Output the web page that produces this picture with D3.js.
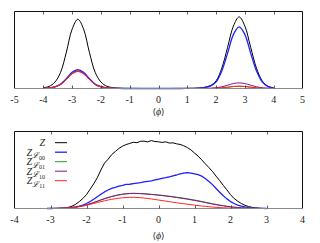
<!DOCTYPE html>
<html>
<head>
<meta charset="utf-8">
<script src="https://cdn.jsdelivr.net/npm/d3@7"></script>
<style>
  body { margin: 0; background: #fff; }
  svg { display: block; }
</style>
</head>
<body>
<div id="chart"></div>
<script>
// --- DATA ---
// top panel: histogram of <phi>, two-peak distribution
const topX = [-4.0,-3.8,-3.6,-3.4,-3.2,-3.0,-2.8,-2.6,-2.4,-2.2,-2.0,-1.8,-1.6,-1.4,-1.2,-1.0,-0.8,-0.6,-0.4,-0.2,
  0.0,0.2,0.4,0.6,0.8,1.0,1.2,1.4,1.6,1.8,2.0,2.2,2.4,2.6,2.8,3.0,3.2,3.4,3.6,3.8,4.0];
const topZ   = [0.009,0.027,0.081,0.21,0.47,0.77,0.90,0.77,0.47,0.21,0.085,0.03,0.012,0.005,0.002,0.001,0.001,0,0,0,
  0,0,0,0.001,0.001,0.002,0.003,0.006,0.016,0.038,0.10,0.267,0.535,0.81,0.93,0.81,0.535,0.267,0.10,0.03,0.008];
const topZ00 = [0.002,0.007,0.022,0.057,0.128,0.21,0.245,0.21,0.128,0.057,0.023,0.008,0.003,0.001,0,0,0,0,0,0,
  0,0,0,0,0,0.001,0.002,0.004,0.012,0.03,0.086,0.23,0.46,0.70,0.80,0.70,0.46,0.23,0.086,0.025,0.006];
const topZ01 = [0.002,0.007,0.02,0.053,0.118,0.193,0.225,0.193,0.118,0.053,0.021,0.008,0.003,0.001,0,0,0,0,0,0,
  0,0,0,0,0,0,0,0,0,0.001,0.004,0.009,0.017,0.026,0.03,0.026,0.017,0.009,0.003,0.001,0];
const topZ10 = [0.002,0.007,0.021,0.054,0.12,0.196,0.228,0.196,0.12,0.054,0.022,0.008,0.003,0.001,0,0,0,0,0,0,
  0,0,0,0,0,0,0,0.001,0.001,0.003,0.009,0.022,0.043,0.064,0.073,0.064,0.043,0.022,0.009,0.003,0.001];
const topZ11 = [0.002,0.007,0.02,0.051,0.115,0.188,0.22,0.188,0.115,0.051,0.02,0.007,0.003,0.001,0,0,0,0,0,0,
  0,0,0,0,0,0,0,0,0,0.001,0.004,0.009,0.017,0.026,0.03,0.026,0.017,0.009,0.003,0.001,0];

// bottom panel: broad single-hump distribution (noisy)
const botX = [-3.1,-3.0,-2.9,-2.8,-2.7,-2.6,-2.5,-2.4,-2.3,-2.2,-2.1,-2.0,-1.9,-1.8,-1.7,-1.6,-1.5,-1.4,-1.3,-1.2,-1.1,
  -1.0,-0.9,-0.8,-0.7,-0.6,-0.5,-0.4,-0.3,-0.2,-0.1,0.0,0.1,0.2,0.3,0.4,0.5,0.6,0.7,0.8,0.9,1.0,
  1.1,1.2,1.3,1.4,1.5,1.6,1.7,1.8,1.9,2.0,2.1,2.2,2.3,2.4,2.5,2.6,2.7,2.8,2.9,3.0];
const botZ   = [0,0,0,0.001,0.003,0.008,0.016,0.03,0.055,0.09,0.13,0.18,0.25,0.32,0.40,0.50,0.59,0.64,0.70,0.74,0.78,
  0.81,0.83,0.845,0.86,0.855,0.872,0.875,0.865,0.882,0.87,0.866,0.858,0.866,0.85,0.853,0.84,0.832,0.815,0.792,0.762,0.72,
  0.68,0.632,0.58,0.532,0.48,0.42,0.362,0.30,0.242,0.18,0.13,0.095,0.065,0.042,0.026,0.015,0.008,0.004,0.001,0];
const botZ00 = [0,0,0.001,0.002,0.003,0.005,0.008,0.013,0.02,0.03,0.045,0.065,0.09,0.12,0.152,0.185,0.215,0.24,0.262,0.275,0.29,
  0.30,0.312,0.315,0.322,0.33,0.336,0.345,0.352,0.36,0.372,0.38,0.392,0.40,0.412,0.425,0.435,0.45,0.458,0.466,0.458,0.45,
  0.44,0.42,0.39,0.352,0.31,0.26,0.212,0.165,0.125,0.09,0.065,0.045,0.03,0.02,0.012,0.007,0.004,0.002,0.001,0];
const botZ01 = [0,0.001,0.001,0.002,0.003,0.005,0.008,0.012,0.018,0.026,0.036,0.047,0.06,0.076,0.093,0.11,0.126,0.141,0.155,0.166,0.176,
  0.184,0.19,0.194,0.196,0.196,0.194,0.192,0.188,0.184,0.18,0.176,0.171,0.165,0.16,0.154,0.147,0.141,0.134,0.126,0.118,0.11,
  0.101,0.092,0.082,0.072,0.062,0.053,0.045,0.037,0.03,0.023,0.018,0.013,0.01,0.007,0.005,0.003,0.002,0.001,0,0];
const botZ10 = [0,0.001,0.001,0.002,0.003,0.005,0.008,0.012,0.018,0.026,0.036,0.048,0.062,0.078,0.095,0.112,0.128,0.143,0.156,0.168,0.178,
  0.186,0.192,0.195,0.197,0.195,0.193,0.19,0.186,0.182,0.178,0.173,0.168,0.162,0.156,0.15,0.143,0.136,0.129,0.121,0.113,0.105,
  0.096,0.087,0.077,0.067,0.058,0.049,0.041,0.034,0.027,0.021,0.016,0.012,0.009,0.006,0.004,0.003,0.002,0.001,0,0];
const botZ11 = [0,0.001,0.001,0.002,0.003,0.005,0.008,0.012,0.017,0.024,0.032,0.042,0.053,0.065,0.077,0.089,0.1,0.11,0.119,0.127,0.134,
  0.139,0.143,0.145,0.146,0.143,0.14,0.136,0.13,0.124,0.117,0.11,0.103,0.096,0.089,0.082,0.075,0.068,0.062,0.056,0.05,0.044,
  0.038,0.033,0.028,0.023,0.019,0.015,0.012,0.009,0.007,0.005,0.004,0.003,0.002,0.001,0.001,0,0,0,0,0];

const seriesNames = ["Z", "00", "01", "10", "11"];
const seriesColors = ["#000000", "#1f1fff", "#2e9a2e", "#8a0f8a", "#ff2323"];
const topTicks = [-5,-4,-3,-2,-1,0,1,2,3,4,5];
const botTicks = [-4,-3,-2,-1,0,1,2,3,4];

const SERIF = "'Liberation Serif', 'DejaVu Serif', serif";

// --- SVG ---
const W = 320, H = 243;
const svg = d3.select("#chart").append("svg").attr("width", W).attr("height", H);

function drawPanel(opts) {
  const { xs, ys, domain, ticks, top, bottom, left, right, labelY, tickY, curve } = opts;
  const x = d3.scaleLinear().domain(domain).range([left, right]);
  const y = d3.scaleLinear().domain([0, 1]).range([bottom, top]);
  const g = svg.append("g");

  const line = d3.line().x((d, i) => x(xs[i])).y(d => y(d)).curve(curve);
  ys.forEach((vals, k) => {
    g.append("path")
      .attr("d", line(vals))
      .attr("fill", "none")
      .attr("stroke", seriesColors[k])
      .attr("stroke-width", k === 1 ? 1.3 : 1)
      .attr("stroke-linejoin", "round");
  });

  // frame: black on three sides, bottom axis grey
  g.append("path")
    .attr("d", `M${left},${bottom}V${top}H${right}V${bottom}`)
    .attr("fill", "none").attr("stroke", "#111").attr("stroke-width", 1);
  g.append("line")
    .attr("x1", left).attr("x2", right).attr("y1", bottom).attr("y2", bottom)
    .attr("stroke", "#8a8a8a").attr("stroke-width", 1);

  // inward ticks, top and bottom
  ticks.slice(1, -1).forEach(t => {
    const tx = Math.round(x(t)) + 0.5;
    g.append("line").attr("x1", tx).attr("x2", tx).attr("y1", top).attr("y2", top + 3)
      .attr("stroke", "#333").attr("stroke-width", 0.8);
    g.append("line").attr("x1", tx).attr("x2", tx).attr("y1", bottom).attr("y2", bottom - 3)
      .attr("stroke", "#333").attr("stroke-width", 0.8);
  });
  ticks.forEach(t => {
    g.append("text").attr("x", x(t)).attr("y", tickY)
      .attr("font-family", SERIF).attr("fill", "#222")
      .attr("text-anchor", "middle").attr("font-size", 10).text(t);
  });

  const lab = g.append("text").attr("x", x(0)).attr("y", labelY)
    .attr("font-family", SERIF).attr("fill", "#222")
    .attr("text-anchor", "middle").attr("font-size", 10);
  lab.append("tspan").attr("font-family", "'DejaVu Serif'").attr("font-size", 9).text("\u27E8");
  lab.append("tspan").attr("font-style", "italic").text("\u03D5");
  lab.append("tspan").attr("font-family", "'DejaVu Serif'").attr("font-size", 9).text("\u27E9");
  return { x, y };
}

drawPanel({
  xs: topX, ys: [topZ, topZ00, topZ01, topZ10, topZ11], domain: [-5, 5], ticks: topTicks,
  top: 11.5, bottom: 88.5, left: 14.5, right: 302.5, tickY: 102.5, labelY: 115,
  curve: d3.curveCatmullRom.alpha(0.5)
});
drawPanel({
  xs: botX, ys: [botZ, botZ00, botZ01, botZ10, botZ11], domain: [-4, 4], ticks: botTicks,
  top: 131.5, bottom: 208.5, left: 14.5, right: 302.5, tickY: 222.5, labelY: 238.5,
  curve: d3.curveLinear
});

// --- LEGEND ---
const legY = [142.7, 152.2, 161.7, 171.2, 180.7];
seriesNames.forEach((name, k) => {
  const t = svg.append("text").attr("x", 45).attr("y", legY[k] + 3.5)
    .attr("font-family", SERIF).attr("fill", "#222")
    .attr("text-anchor", "end").attr("font-size", 10);
  t.append("tspan").attr("font-style", "italic").text("Z");
  if (name !== "Z") {
    t.append("tspan").attr("font-size", 8).attr("font-style", "italic").attr("dy", 2.5).text("\u2112");
    t.append("tspan").attr("font-size", 6).attr("dy", 1.5).text(name);
  }
  svg.append("line").attr("x1", 55).attr("x2", 67).attr("y1", legY[k]).attr("y2", legY[k])
    .attr("stroke", seriesColors[k]).attr("stroke-width", k === 1 ? 1.3 : 1);
});
</script>
</body>
</html>
